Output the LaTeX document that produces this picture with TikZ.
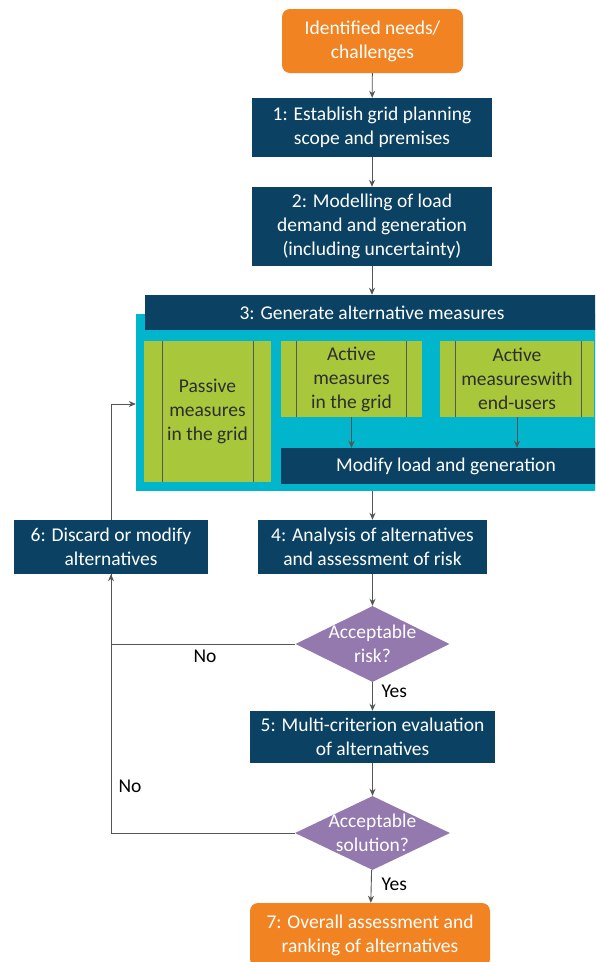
\documentclass[tikz,border=0pt]{standalone}
\usepackage{fontspec}
\setmainfont{Carlito}
\usetikzlibrary{shapes.geometric,arrows.meta,calc}
\definecolor{dblue}{HTML}{0B4263}
\definecolor{cyanbg}{HTML}{00B5CC}
\definecolor{lgreen}{HTML}{A8C73A}
\definecolor{purp}{HTML}{9479AE}
\definecolor{orng}{HTML}{F28322}
\definecolor{lgray}{HTML}{555555}
\definecolor{gtext}{HTML}{2E2E2E}
\tikzset{
  txt/.style={font=\fontsize{19.5}{24}\selectfont, align=center},
  darkbox/.style={txt, fill=dblue, text=white, inner sep=0pt},
  orbox/.style={txt, fill=orng, text=white, rounded corners=8pt, inner sep=0pt},
  greenbox/.style={txt, fill=lgreen, text=gtext, inner sep=0pt},
  decision/.style={diamond, fill=purp, inner sep=0pt},
  dtext/.style={txt, text=white},
  conn/.style={draw=lgray, line width=0.9pt, -{Stealth[length=7pt,width=6pt]}},
  line/.style={draw=lgray, line width=0.9pt},
  lab/.style={txt, text=black},
  inline/.style={draw=gtext!80, line width=0.8pt}
}
\begin{document}
\begin{tikzpicture}[x=1pt,y=-1pt]
\useasboundingbox (0,0) rectangle (595,962);
\clip (0,0) rectangle (595,962);
\fill[white] (0,0) rectangle (595,962);

% top
\node[orbox, minimum width=181, minimum height=64] (top) at (372.5,41) {Identified needs/\\challenges};
\node[darkbox, minimum width=240, minimum height=59] (b1) at (372,127.5) {1: Establish grid planning\\scope and premises};
\node[darkbox, minimum width=240, minimum height=79] (b2) at (372,226.5) {2: Modelling of load\\demand and generation\\(including uncertainty)};

% cyan background
\node[fill=cyanbg, minimum width=470, minimum height=177, inner sep=0pt] (bg) at (371,402.5) {};
\node[darkbox, minimum width=454, minimum height=35] (b3) at (372,312.5) {3: Generate alternative measures};

% green boxes
\node[greenbox, minimum width=127, minimum height=141] (pass) at (207.5,411.5) {Passive\\measures\\in the grid};
\draw[inline] (162,341) -- (162,482) (253,341) -- (253,482);
\node[greenbox, minimum width=141, minimum height=76] (actg) at (351.5,379) {Active\\measures\\in the grid};
\draw[inline] (296,341) -- (296,417) (406,341) -- (406,417);
\node[greenbox, minimum width=154, minimum height=76] (acte) at (517,379) {Active\\measureswith\\end-users};
\draw[inline] (455,341) -- (455,417) (581,341) -- (581,417);
\node[darkbox, minimum width=330, minimum height=36] (mod) at (446,466) {Modify load and generation};

% lower boxes
\node[darkbox, minimum width=229, minimum height=54] (b4) at (372.5,547) {4: Analysis of alternatives\\and assessment of risk};
\node[darkbox, minimum width=194, minimum height=54] (b6) at (111,547) {6: Discard or modify\\alternatives};
\node[decision, minimum width=154, minimum height=76] (d1) at (372.5,644) {};
\node[dtext] at (d1) {Acceptable\\risk?};
\node[darkbox, minimum width=245, minimum height=52] (b5) at (372.5,737) {5: Multi-criterion evaluation\\of alternatives};
\node[decision, minimum width=155, minimum height=74] (d2) at (372.5,833) {};
\node[dtext] at (d2) {Acceptable\\solution?};
\node[orbox, minimum width=240, minimum height=64] (b7) at (370,935) {7: Overall assessment and\\ranking of alternatives};

% connectors
\draw[conn] (top) -- (b1);
\draw[conn] (b1) -- (b2);
\draw[conn] (b2) -- (b3);
\draw[conn] (actg.south) -- (actg.south |- mod.north);
\draw[conn] (acte.south) -- (acte.south |- mod.north);
\draw[conn] (b4.north |- bg.south) -- (b4.north);
\draw[conn] (b4) -- (d1);
\draw[conn] (d1) -- (b5);
\draw[conn] (b5) -- (d2);
\draw[conn] (d2) -- (b7);
\draw[conn] (d1.west) -| (b6.south);
\draw[line] (d2.west) -| (b6.south);
\coordinate (ent) at (bg.west |- 0,404);
\draw[conn] (b6.north) |- (ent);

% labels
\node[lab, anchor=west] at (378,691) {Yes};
\node[lab, anchor=west] at (378,884) {Yes};
\node[lab] at (205,656) {No};
\node[lab] at (130,786) {No};
\end{tikzpicture}
\end{document}
